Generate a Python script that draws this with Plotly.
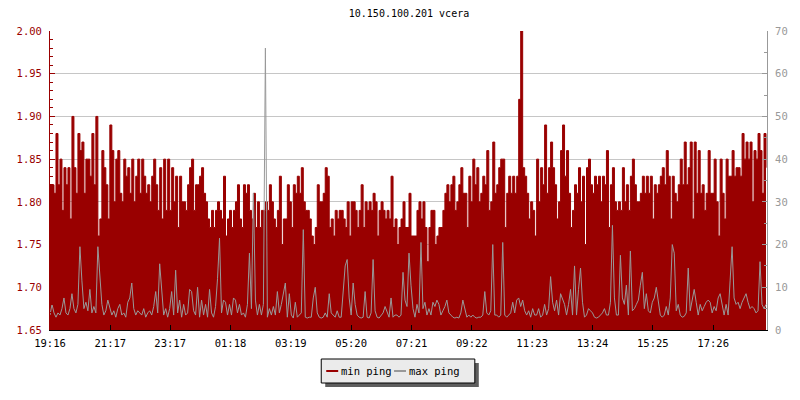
import plotly.graph_objects as go

# ---------------- data ----------------
title_text = "10.150.100.201 vcera"
sample_minutes = 4  # one sample every 4 minutes, starting 19:16

min_ping = [
    1.82, 1.82, 1.81, 1.88, 1.82, 1.85, 1.79, 1.84, 1.82, 1.84,
    1.78, 1.90, 1.84, 1.81, 1.88, 1.86, 1.87, 1.81, 1.85, 1.85,
    1.83, 1.88, 1.82, 1.90, 1.76, 1.78, 1.86, 1.84, 1.82, 1.78,
    1.89, 1.86, 1.80, 1.85, 1.86, 1.81, 1.80, 1.85, 1.83, 1.84,
    1.81, 1.85, 1.80, 1.83, 1.85, 1.81, 1.85, 1.83, 1.81,
    1.82, 1.80, 1.83, 1.85, 1.82, 1.79, 1.84, 1.78, 1.85, 1.79,
    1.85, 1.79, 1.84, 1.80, 1.83, 1.77, 1.83, 1.80, 1.80, 1.79,
    1.82, 1.84, 1.85, 1.79, 1.82, 1.82, 1.83, 1.84, 1.81, 1.80,
    1.78, 1.77, 1.79, 1.77, 1.79, 1.80, 1.79, 1.78, 1.83, 1.76,
    1.78, 1.79, 1.77, 1.79, 1.80, 1.82, 1.78, 1.77, 1.82, 1.81,
    1.82, 1.79, 1.78, 1.81, 1.77, 1.80, 1.77, 1.79, 1.79, 1.80,
    1.79, 1.82, 1.80, 1.78, 1.77, 1.79, 1.83, 1.75, 1.78, 1.78,
    1.82, 1.80, 1.77, 1.82, 1.81, 1.83, 1.81, 1.84, 1.80, 1.79,
    1.79, 1.78, 1.76, 1.75, 1.77, 1.82, 1.80, 1.80, 1.81, 1.84,
    1.83, 1.77, 1.78, 1.76, 1.79, 1.78, 1.79, 1.79, 1.78, 1.77,
    1.80, 1.76, 1.80, 1.80, 1.79, 1.77, 1.79, 1.82, 1.77, 1.80,
    1.79, 1.80, 1.79, 1.81, 1.80, 1.76, 1.79, 1.80, 1.79, 1.78,
    1.79, 1.78, 1.83, 1.77, 1.78, 1.75, 1.77, 1.78, 1.80, 1.77,
    1.77, 1.81, 1.76, 1.76, 1.76, 1.79, 1.80, 1.78, 1.80, 1.77,
    1.73, 1.77, 1.79, 1.79, 1.75, 1.76, 1.77, 1.77, 1.79, 1.81,
    1.82, 1.80, 1.82, 1.83, 1.79, 1.80, 1.82, 1.84, 1.81, 1.81,
    1.77, 1.83, 1.80, 1.85, 1.82, 1.84, 1.80, 1.81, 1.83, 1.82,
    1.86, 1.79, 1.80, 1.87, 1.81, 1.82, 1.84, 1.85, 1.85, 1.77,
    1.81, 1.83, 1.81, 1.83, 1.81, 1.83, 1.92, 2.00, 1.84, 1.83,
    1.81, 1.78, 1.80, 1.79, 1.76, 1.85, 1.80, 1.84, 1.82, 1.89,
    1.81, 1.84, 1.87, 1.84, 1.82, 1.78, 1.80, 1.86, 1.89, 1.83,
    1.86, 1.81, 1.77, 1.79, 1.82, 1.81, 1.84, 1.80, 1.83, 1.75,
    1.84, 1.85, 1.82, 1.81, 1.83, 1.82, 1.83, 1.80, 1.83, 1.82,
    1.86, 1.77, 1.82, 1.84, 1.80, 1.79, 1.80, 1.79, 1.84, 1.80,
    1.82, 1.79, 1.83, 1.85, 1.82, 1.80, 1.80, 1.81, 1.83, 1.81,
    1.83, 1.81, 1.83, 1.78, 1.82, 1.81, 1.82, 1.83, 1.84, 1.82,
    1.86, 1.83, 1.78, 1.83, 1.81, 1.80, 1.82, 1.85, 1.82, 1.87,
    1.82, 1.84, 1.87, 1.78, 1.87, 1.81, 1.86, 1.81, 1.82, 1.79,
    1.81, 1.86, 1.81, 1.81, 1.85, 1.80, 1.76, 1.85, 1.81, 1.78,
    1.85, 1.83, 1.83, 1.86, 1.83, 1.84, 1.84, 1.83, 1.88, 1.85,
    1.87, 1.85, 1.87, 1.80, 1.86, 1.85, 1.88, 1.86, 1.81, 1.88,
    1.84,
]

max_ping = [
    3.5, 6.0, 4.0, 3.0, 4.0, 3.5, 5.0, 7.5, 4.0, 3.5,
    5.0, 8.5, 5.0, 4.0, 6.0, 19.5, 11.5, 5.0, 6.5, 4.5,
    9.5, 4.0, 5.5, 4.0, 19.5, 11.5, 6.0, 3.5, 4.5, 7.0,
    5.5, 3.5, 4.5, 3.0, 5.0, 6.0, 3.5, 4.0, 3.0, 6.5,
    7.5, 11.0, 5.0, 3.5, 4.5, 4.0, 3.5, 5.0, 3.0,
    4.0, 4.5, 3.5, 5.5, 9.0, 4.0, 15.5, 10.0, 3.5, 5.0,
    3.0, 5.0, 9.0, 3.5, 14.0, 4.0, 7.0, 3.0, 6.0, 3.5,
    4.0, 9.5, 9.0, 4.5, 3.5, 10.0, 3.0, 7.0, 3.5, 6.0,
    3.0, 9.5, 4.0, 3.0, 5.5, 12.0, 21.5, 4.0, 7.0, 6.5,
    3.5, 6.0, 3.5, 7.5, 7.0, 4.0, 6.0, 3.5, 4.0, 3.0,
    6.0, 18.0, 5.0, 32.0, 7.0, 3.5, 6.0, 3.5, 6.0, 66.0,
    3.0, 5.0, 3.5, 5.5, 3.5, 9.0, 4.0, 6.0, 9.0, 11.0,
    3.0, 8.5, 3.5, 2.8, 6.5, 3.0, 3.5, 4.0, 23.5, 3.0,
    2.8, 3.0, 3.0, 7.5, 10.0, 4.0, 3.0, 2.8, 3.0, 4.0,
    3.0, 8.5, 4.0, 3.5, 3.0, 4.5, 3.0, 3.0, 10.0, 15.0,
    16.5, 7.5, 3.5, 11.0, 6.0, 3.5, 3.0, 2.8, 3.0, 9.0,
    3.0, 2.8, 4.0, 16.5, 4.5, 3.0, 2.8, 3.5, 4.0, 5.5,
    4.0, 3.0, 7.5, 3.0, 3.5, 3.5, 3.0, 3.5, 13.5, 7.0,
    5.5, 18.0, 10.5, 5.0, 3.0, 6.0, 4.0, 20.5, 5.0, 6.5,
    3.5, 5.0, 3.5, 6.5, 5.5, 7.0, 6.0, 3.5, 4.5, 5.5,
    7.0, 4.0, 3.5, 3.0, 2.8, 3.0, 2.8, 4.0, 7.0, 5.0,
    3.0, 3.5, 3.0, 3.5, 3.0, 2.8, 3.0, 3.0, 3.5, 9.0,
    4.0, 3.5, 4.5, 20.0, 3.5, 3.5, 3.0, 3.5, 20.5, 3.5,
    3.0, 3.5, 4.0, 6.5, 4.0, 7.0, 7.5, 5.5, 7.0, 4.5,
    3.5, 4.5, 3.0, 5.0, 3.5, 3.5, 5.0, 3.0, 3.5, 6.0,
    3.5, 5.0, 12.5, 6.5, 4.5, 7.0, 3.5, 8.5, 7.0, 6.0,
    3.5, 6.0, 9.5, 3.5, 15.0, 3.5, 9.5, 14.5, 6.5, 3.0,
    3.5, 5.0, 4.5, 4.0, 3.0, 2.8, 3.0, 3.5, 4.0, 5.0,
    3.5, 3.5, 6.5, 24.5, 7.5, 3.5, 3.5, 17.5, 7.5, 6.0,
    10.5, 3.5, 18.5, 4.5, 5.0, 6.0, 7.0, 10.5, 13.5, 5.0,
    8.5, 4.5, 4.0, 6.5, 7.5, 10.0, 7.0, 3.5, 3.0, 3.5,
    5.5, 3.5, 7.5, 20.0, 18.0, 4.5, 6.0, 3.5, 3.0, 3.2,
    4.0, 14.5, 4.5, 7.5, 9.5, 6.5, 3.5, 6.0, 4.5, 5.5,
    6.5, 7.0, 6.5, 4.0, 5.5, 4.5, 7.5, 8.5, 6.0, 3.5,
    6.0, 3.5, 11.5, 19.5, 7.5, 6.0, 6.5, 5.0, 6.5, 7.5,
    8.5, 6.5, 5.0, 5.5, 5.0, 4.0, 4.5, 16.0, 6.0, 5.0,
    6.0,
]

tick_minutes = [0, 121, 241, 362, 483, 604, 725, 846, 967, 1088, 1209, 1330]
tick_labels = ["19:16", "21:17", "23:17", "01:18", "03:19", "05:20",
               "07:21", "09:22", "11:23", "13:24", "15:25", "17:26"]
series_names = ["min ping", "max ping"]

# ---------------- styling ----------------
RED = "#990000"
GREY = "#999999"
GRID = "#c6c6c6"
FONT = "DejaVu Sans Mono"

W, H = 800, 400
L, R, T, B = 50, 31, 31, 70
PW, PH = W - L - R, H - T - B


def xp(px):
    return (px - L) / PW


def yp(py):
    return (H - B - py) / PH


minutes = [i * sample_minutes for i in range(len(min_ping))]

fig = go.Figure()
fig.add_trace(go.Scatter(
    x=minutes, y=min_ping, mode="lines", name=series_names[0],
    line=dict(color=RED, width=1, shape="hv"),
    fill="tozeroy", fillcolor=RED, showlegend=False,
))
fig.add_trace(go.Scatter(
    x=minutes, y=max_ping, mode="lines", name=series_names[1], yaxis="y2",
    line=dict(color=GREY, width=1, shape="linear"), showlegend=False,
))

fig.update_layout(
    width=W, height=H,
    margin=dict(l=L, r=R, t=T, b=B, pad=0),
    paper_bgcolor="white", plot_bgcolor="white",
    font=dict(family=FONT, size=10, color="black"),
    title=dict(text=title_text, x=xp(410), xref="paper", xanchor="center",
               y=1 - 13 / H, yref="container", yanchor="middle",
               font=dict(family=FONT, size=10, color="black")),
    xaxis=dict(
        range=[0, 1438], tickmode="array", tickvals=tick_minutes, ticktext=tick_labels,
        ticks="inside", ticklen=5, tickcolor="black", showline=True, linecolor="black",
        linewidth=1, showgrid=False, zeroline=False,
        tickfont=dict(family=FONT, size=10.5, color="black"), ticklabelstandoff=3,
    ),
    yaxis=dict(
        range=[1.65, 2.0], tickmode="linear", tick0=1.65, dtick=0.05, tickformat=".2f",
        ticks="inside", ticklen=5, tickcolor=RED, showline=True, linecolor=RED,
        linewidth=1, showgrid=True, gridcolor=GRID, gridwidth=1, zeroline=False,
        tickfont=dict(family=FONT, size=10.5, color=RED), ticklabelstandoff=5,
        minor=dict(tickmode="linear", tick0=1.65, dtick=0.01, ticks="inside",
                   ticklen=3, tickcolor=RED, showgrid=False),
    ),
    yaxis2=dict(
        range=[0, 70], tickmode="linear", tick0=0, dtick=10, overlaying="y", side="right",
        anchor="x", ticks="inside", ticklen=5, tickcolor=GREY, showline=True,
        linecolor=GREY, linewidth=1, showgrid=False, zeroline=False,
        tickfont=dict(family=FONT, size=10.5, color=GREY), ticklabelstandoff=5,
        minor=dict(tickmode="linear", tick0=0, dtick=5, ticks="inside",
                   ticklen=3, tickcolor=GREY, showgrid=False),
    ),
)

# manual legend box with drop shadow
shapes = [
    dict(type="rect", xref="paper", yref="paper", x0=xp(326), x1=xp(480),
         y0=yp(363), y1=yp(387), fillcolor="#5e5e5e", line=dict(width=0), layer="above"),
    dict(type="rect", xref="paper", yref="paper", x0=xp(322), x1=xp(476),
         y0=yp(359), y1=yp(383), fillcolor="#ebebeb", line=dict(color="black", width=1),
         layer="above"),
    dict(type="line", xref="paper", yref="paper", x0=xp(327), x1=xp(339),
         y0=yp(371), y1=yp(371), line=dict(color=RED, width=2), layer="above"),
    dict(type="line", xref="paper", yref="paper", x0=xp(395), x1=xp(407),
         y0=yp(371), y1=yp(371), line=dict(color=GREY, width=2), layer="above"),
]
fig.update_layout(shapes=shapes)
fig.add_annotation(text=series_names[0], xref="paper", yref="paper", x=xp(340), y=yp(370.5),
                   xanchor="left", yanchor="middle", showarrow=False,
                   font=dict(family=FONT, size=10.5, color="black"))
fig.add_annotation(text=series_names[1], xref="paper", yref="paper", x=xp(408), y=yp(370.5),
                   xanchor="left", yanchor="middle", showarrow=False,
                   font=dict(family=FONT, size=10.5, color="black"))

fig.write_html("out.html", config={"displayModeBar": False},
               post_script="document.body.style.margin='0px';")
